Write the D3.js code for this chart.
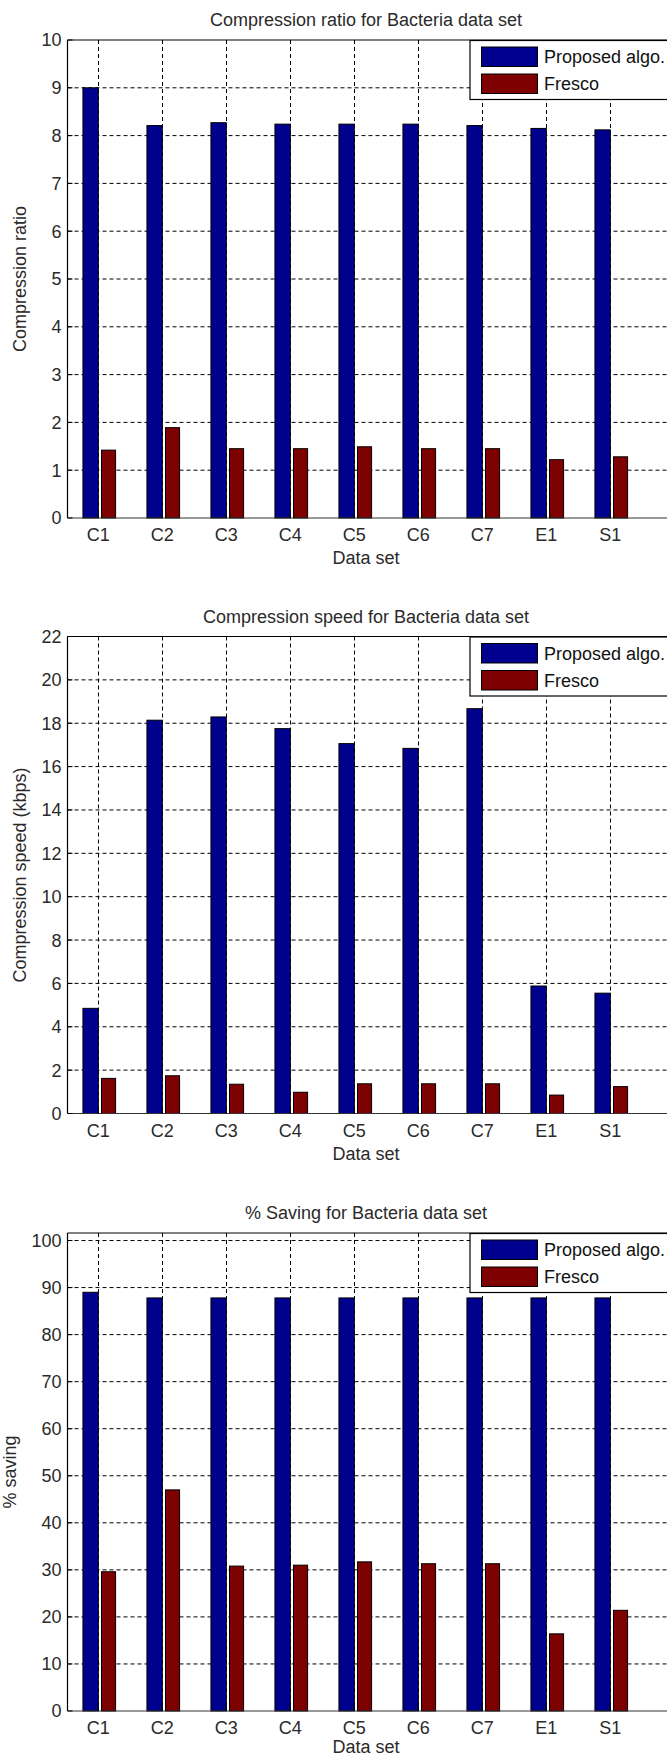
<!DOCTYPE html>
<html><head><meta charset="utf-8">
<script src="https://cdn.jsdelivr.net/npm/d3@7"></script>
<style>
html,body{margin:0;padding:0;background:#fff;}
svg{display:block;font-family:"Liberation Sans",Arial,sans-serif;}
</style></head>
<body>
<svg id="c" width="667" height="1758"></svg>
<script>
const categories = ["C1","C2","C3","C4","C5","C6","C7","E1","S1"];
const seriesNames = ["Proposed algo.","Fresco"];
const seriesColors = ["#00008F","#7F0000"];

const ratioProposed = [9.0, 8.21, 8.27, 8.24, 8.24, 8.24, 8.21, 8.15, 8.12];
const ratioFresco   = [1.42, 1.89, 1.45, 1.45, 1.49, 1.45, 1.45, 1.22, 1.28];
const ratioTicks = [0,1,2,3,4,5,6,7,8,9,10];

const speedProposed = [4.85, 18.14, 18.29, 17.75, 17.06, 16.84, 18.67, 5.88, 5.55];
const speedFresco   = [1.62, 1.74, 1.35, 0.98, 1.37, 1.37, 1.37, 0.85, 1.24];
const speedTicks = [0,2,4,6,8,10,12,14,16,18,20,22];

const savingProposed = [89.0, 87.8, 87.8, 87.8, 87.8, 87.8, 87.8, 87.8, 87.8];
const savingFresco   = [29.6, 47.0, 30.8, 31.0, 31.7, 31.3, 31.3, 16.4, 21.4];
const savingTicks = [0,10,20,30,40,50,60,70,80,90,100];

const charts = [
  {title:"Compression ratio for Bacteria data set", ylabel:"Compression ratio",
   series:[ratioProposed, ratioFresco], ticks:ratioTicks, ymax:10, top:40, bottom:518, ylabX:20, xlabOff:40},
  {title:"Compression speed for Bacteria data set", ylabel:"Compression speed (kbps)",
   series:[speedProposed, speedFresco], ticks:speedTicks, ymax:22, top:636.5, bottom:1113.5, ylabX:20, xlabOff:40},
  {title:"% Saving for Bacteria data set", ylabel:"% saving",
   series:[savingProposed, savingFresco], ticks:savingTicks, ymax:101.6, top:1233, bottom:1711, ylabX:10, xlabOff:36}
];

const svg = d3.select("#c");
const left = 67.5, right = 720;
const x = d3.scaleLinear().domain([1, 9]).range([98.3, 610.3]);
const barOff = [[-0.24, 0], [0.05, 0.27]];

charts.forEach(ch => {
  const g = svg.append("g");
  const y = d3.scaleLinear().domain([0, ch.ymax]).range([ch.bottom, ch.top]);
  const idx = categories.map((c,i)=>i+1);

  // grid
  g.append("g").selectAll("line.h").data(ch.ticks.filter(t=>t>0 && t<ch.ymax)).join("line")
    .attr("x1", left).attr("x2", right).attr("y1", d=>y(d)).attr("y2", d=>y(d))
    .attr("stroke","#000").attr("stroke-width",1).attr("stroke-dasharray","4,3");
  g.append("g").selectAll("line.v").data(idx).join("line")
    .attr("x1", d=>Math.round(x(d))+0.5).attr("x2", d=>Math.round(x(d))+0.5)
    .attr("y1", ch.top).attr("y2", ch.bottom)
    .attr("stroke","#000").attr("stroke-width",1).attr("stroke-dasharray","4,3");

  // bars
  ch.series.forEach((vals, s) => {
    g.append("g").selectAll("rect").data(vals).join("rect")
      .attr("x", (d,i)=>x(i+1+barOff[s][0]))
      .attr("width", (d,i)=>x(i+1+barOff[s][1]) - x(i+1+barOff[s][0]))
      .attr("y", d=>y(d))
      .attr("height", d=>y(0)-y(d))
      .attr("fill", seriesColors[s]).attr("stroke","#000").attr("stroke-width",1);
  });

  // frame
  g.append("line").attr("x1",left).attr("x2",right).attr("y1",ch.top).attr("y2",ch.top)
    .attr("stroke","#000").attr("stroke-width",1.2);
  g.append("line").attr("x1",left).attr("x2",left).attr("y1",ch.top).attr("y2",ch.bottom)
    .attr("stroke","#000").attr("stroke-width",1.2);
  g.append("line").attr("x1",left).attr("x2",right).attr("y1",ch.bottom).attr("y2",ch.bottom)
    .attr("stroke","#333").attr("stroke-width",1.2);

  // ticks (inward)
  g.append("g").selectAll("line").data(ch.ticks).join("line")
    .attr("x1",left).attr("x2",left+5).attr("y1",d=>y(d)).attr("y2",d=>y(d))
    .attr("stroke","#000");
  g.append("g").selectAll("line").data(idx).join("line")
    .attr("x1",d=>x(d)).attr("x2",d=>x(d)).attr("y1",ch.bottom).attr("y2",ch.bottom-5)
    .attr("stroke","#000");

  // y tick labels
  g.append("g").selectAll("text").data(ch.ticks).join("text")
    .attr("x", left-6).attr("y", d=>y(d)).attr("dy","0.36em")
    .attr("text-anchor","end").attr("font-size",18).attr("fill","#2a2a2a")
    .text(d=>d);
  // x tick labels
  g.append("g").selectAll("text").data(categories).join("text")
    .attr("x", (d,i)=>x(i+1)).attr("y", ch.bottom+17).attr("dy","0.36em")
    .attr("text-anchor","middle").attr("font-size",18).attr("fill","#2a2a2a")
    .text(d=>d);

  // axis labels
  g.append("text").attr("x", 366).attr("y", ch.bottom+ch.xlabOff).attr("dy","0.36em")
    .attr("text-anchor","middle").attr("font-size",18).attr("fill","#2a2a2a").text("Data set");
  g.append("text").attr("transform", `translate(${ch.ylabX},${(ch.top+ch.bottom)/2}) rotate(-90)`)
    .attr("dy","0.36em").attr("text-anchor","middle").attr("font-size",18).attr("fill","#2a2a2a")
    .text(ch.ylabel);
  // title
  g.append("text").attr("x", 366).attr("y", ch.top-20).attr("dy","0.36em")
    .attr("text-anchor","middle").attr("font-size",18).attr("fill","#2a2a2a").text(ch.title);

  // legend
  const lx = 470, ly = ch.top + 0.5;
  const lg = g.append("g");
  lg.append("rect").attr("x",lx).attr("y",ly).attr("width",260).attr("height",59)
    .attr("fill","#fff").attr("stroke","#000").attr("stroke-width",1.2);
  seriesNames.forEach((n,s)=>{
    const sy = ly + 6.5 + s*27;
    lg.append("rect").attr("x",lx+11.5).attr("y",sy).attr("width",56).attr("height",19.5)
      .attr("fill",seriesColors[s]).attr("stroke","#000").attr("stroke-width",1);
    lg.append("text").attr("x",lx+74).attr("y",sy+10).attr("dy","0.36em")
      .attr("font-size",18).attr("fill","#111").text(n);
  });
});
</script>
</body></html>
